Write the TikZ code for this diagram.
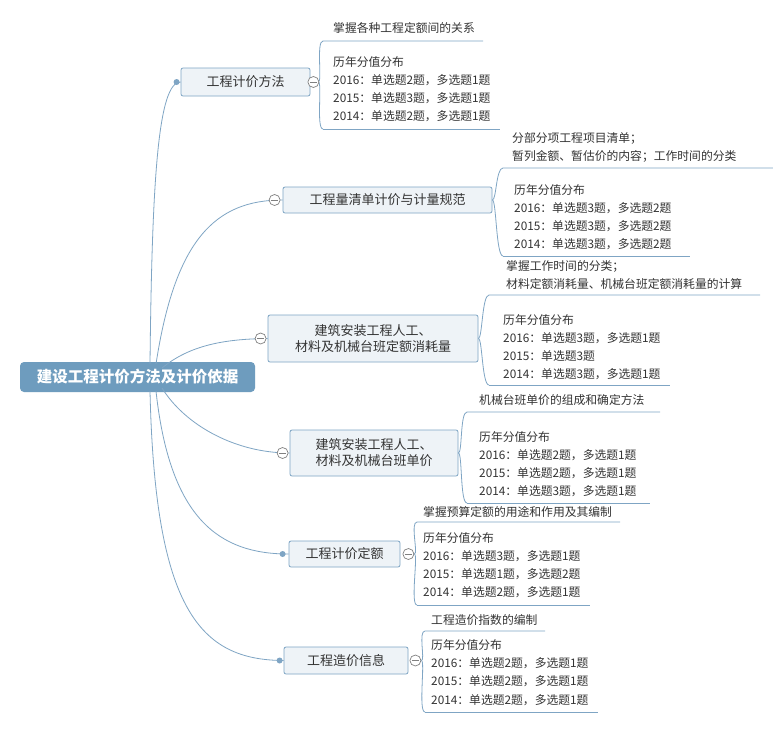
\documentclass[tikz,border=0pt]{standalone}
\usepackage{fontspec}
\setmainfont{Noto Sans CJK SC}
\usetikzlibrary{calc,positioning}
\definecolor{edgeblue}{HTML}{7FA5C4}
\definecolor{boxfill}{HTML}{EEF3F7}
\definecolor{rootfill}{HTML}{6E9CBE}
\definecolor{txt}{HTML}{333333}
\tikzset{
  topic/.style={draw=edgeblue, fill=boxfill, rounded corners=2pt, line width=0.8pt,
    text=txt, font=\fontsize{13}{16}\selectfont, inner xsep=0pt, inner ysep=0pt, align=center},
  leaf/.style={anchor=base west, inner sep=0pt, text=txt, font=\fontsize{11.8}{13}\selectfont},
  branch/.style={draw=edgeblue, line width=0.8pt},
  fold/.style={draw=gray, fill=white, line width=0.7pt},
}
\newcommand{\foldmark}[1]{%
  \draw[fold] (#1) circle (5.5);
  \draw[gray, line width=0.7pt] ($(#1)+(-3.5,0)$) -- ($(#1)+(3.5,0)$);}
\newcommand{\bracket}[5]{% start, x, top y, top end, bottom y
  \draw[branch] (#1) .. controls ($(#1)+(4,0)$) and (#2,#3) .. (#2+7,#3) -- (#4,#3);
  \draw[branch] (#1) .. controls ($(#1)+(4,0)$) and (#2,#5) .. (#2+7,#5);}
\begin{document}
\begin{tikzpicture}[x=1pt,y=-1pt]
  \useasboundingbox[fill=white] (0,0) rectangle (773,734);
  \node[fill=rootfill, rounded corners=4pt, text=white, minimum width=235, minimum height=30,
    font=\fontsize{15.5}{18}\selectfont\bfseries] (root) at (137.5,377) {建设工程计价方法及计价依据};

  % topics
  \node[topic, minimum width=129, minimum height=28] (jjff) at (245.5,82) {工程计价方法};
  \node[topic, minimum width=209, minimum height=26] (qdgf) at (387.5,200) {工程量清单计价与计量规范};
  \node[topic, minimum width=210, minimum height=47] (xhl) at (373,338.5)
    {建筑安装工程人工、\\材料及机械台班定额消耗量};
  \node[topic, minimum width=168, minimum height=46] (dj) at (374,453)
    {建筑安装工程人工、\\材料及机械台班单价};
  \node[topic, minimum width=111, minimum height=26] (de) at (344.5,554) {工程计价定额};
  \node[topic, minimum width=124, minimum height=27] (zjxx) at (346,660.5) {工程造价信息};

  % branches from the root
  \draw[branch] (150,364) .. controls (152,180) and (158,82) .. (jjff.west);
  \draw[branch] (156,364) .. controls (175,240) and (215,200) .. (qdgf.west);
  \draw[branch] (162,368) .. controls (190,345) and (225,339) .. (xhl.west);
  \draw[branch] (162,388) .. controls (185,425) and (235,453) .. (dj.west);
  \draw[branch] (156,391) .. controls (170,520) and (220,554) .. (de.west);
  \draw[branch] (150,391) .. controls (155,610) and (200,660) .. (zjxx.west);
  \fill[edgeblue] ($(jjff.west)+(-4,0)$) circle (3);
  \fill[edgeblue] ($(de.west)+(-6,0)$) circle (3);
  \fill[edgeblue] ($(zjxx.west)+(-4,0)$) circle (3);
  \foldmark{$(qdgf.west)+(-8,0)$}
  \foldmark{$(xhl.west)+(-7,0)$}
  \foldmark{$(dj.west)+(-7,0)$}

  % leaves
  \bracket{$(jjff.east)+(8,0)$}{316}{41}{483}{129}
  \draw[branch] (323,129) -- (500,129);
  \foldmark{$(jjff.east)+(3,0)$}
  \node[leaf] (l1a) at (333,32) {掌握各种工程定额间的关系};
  \node[leaf] (l1b) at (333,66) {历年分值分布};
  \node[leaf] (l1c) at (333,84) {2016：单选题2题，多选题1题};
  \node[leaf] (l1d) at (333,102) {2015：单选题3题，多选题1题};
  \node[leaf] (l1e) at (333,120) {2014：单选题2题，多选题1题};

  \bracket{qdgf.east}{496}{168}{773}{256}
  \draw[branch] (503,256) -- (690,256);
  \node[leaf] (l2a) at (512,142) {分部分项工程项目清单；};
  \node[leaf] (l2b) at (512,160) {暂列金额、暂估价的内容；工作时间的分类};
  \node[leaf] (l2c) at (514,194) {历年分值分布};
  \node[leaf] (l2d) at (514,212) {2016：单选题3题，多选题2题};
  \node[leaf] (l2e) at (514,230) {2015：单选题3题，多选题2题};
  \node[leaf] (l2f) at (514,248) {2014：单选题3题，多选题2题};

  \bracket{xhl.east}{482}{295}{760}{385}
  \draw[branch] (489,385) -- (670,385);
  \node[leaf] (l3a) at (506,270) {掌握工作时间的分类；};
  \node[leaf] (l3b) at (506,288) {材料定额消耗量、机械台班定额消耗量的计算};
  \node[leaf] (l3c) at (503,324) {历年分值分布};
  \node[leaf] (l3d) at (503,342) {2016：单选题3题，多选题1题};
  \node[leaf] (l3e) at (503,360) {2015：单选题3题};
  \node[leaf] (l3f) at (503,378) {2014：单选题3题，多选题1题};

  \bracket{dj.east}{460}{412}{660}{503}
  \draw[branch] (467,503) -- (650,503);
  \node[leaf] (l4a) at (479,404) {机械台班单价的组成和确定方法};
  \node[leaf] (l4b) at (479,441) {历年分值分布};
  \node[leaf] (l4c) at (479,459) {2016：单选题2题，多选题1题};
  \node[leaf] (l4d) at (479,477) {2015：单选题2题，多选题1题};
  \node[leaf] (l4e) at (479,495) {2014：单选题3题，多选题1题};

  \bracket{$(de.east)+(14,0)$}{410}{522}{620}{605}
  \draw[branch] (417,605) -- (590,605);
  \foldmark{$(de.east)+(8,0)$}
  \node[leaf] (l5a) at (423,516) {掌握预算定额的用途和作用及其编制};
  \node[leaf] (l5b) at (423,542) {历年分值分布};
  \node[leaf] (l5c) at (423,560) {2016：单选题3题，多选题1题};
  \node[leaf] (l5d) at (423,578) {2015：单选题1题，多选题2题};
  \node[leaf] (l5e) at (423,596) {2014：单选题2题，多选题1题};

  \bracket{$(zjxx.east)+(13,0)$}{418}{631}{545}{712}
  \draw[branch] (425,712) -- (598,712);
  \foldmark{$(zjxx.east)+(7,0)$}
  \node[leaf] (l6a) at (431,624) {工程造价指数的编制};
  \node[leaf] (l6b) at (431,649) {历年分值分布};
  \node[leaf] (l6c) at (431,667) {2016：单选题2题，多选题1题};
  \node[leaf] (l6d) at (431,685) {2015：单选题2题，多选题1题};
  \node[leaf] (l6e) at (431,704) {2014：单选题2题，多选题1题};
\end{tikzpicture}
\end{document}
